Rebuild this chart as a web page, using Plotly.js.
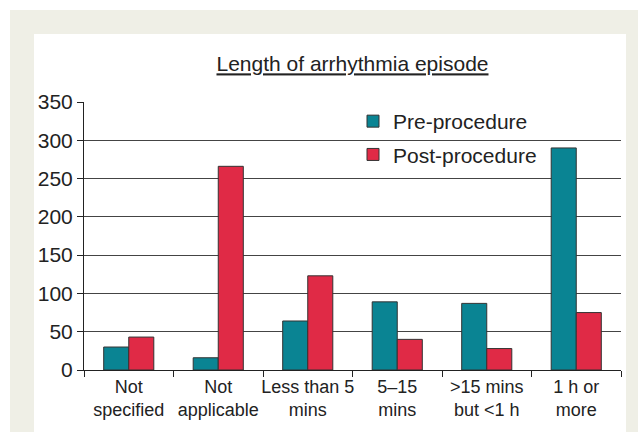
<!DOCTYPE html>
<html>
<head>
<meta charset="utf-8">
<script src="https://cdn.plot.ly/plotly-3.0.1.min.js"></script>
<style>html,body{margin:0;padding:0;background:#fff;}#chart{width:638px;height:432px;}</style>
</head>
<body>
<div id="chart"></div>
<script>
var categories = ["Not<br>specified", "Not<br>applicable", "Less than 5<br>mins", "5–15<br>mins", "&gt;15 mins<br>but &lt;1 h", "1 h or<br>more"];
var preProcedure = [30, 16, 64, 89, 87, 290];
var postProcedure = [43, 266, 123, 40, 28, 75];
var yTicks = [0, 50, 100, 150, 200, 250, 300, 350];

var FONT = '"Liberation Sans", Arial, Helvetica, sans-serif';

var traces = [
  {type: 'bar', name: 'Pre-procedure', x: categories, y: preProcedure,
   legendgroup: 'a',
   marker: {color: '#0a8493', line: {color: '#333333', width: 1}}},
  {type: 'bar', name: 'Post-procedure', x: categories, y: postProcedure,
   legendgroup: 'b',
   marker: {color: '#e02a46', line: {color: '#333333', width: 1}}}
];

var layout = {
  width: 638, height: 432,
  margin: {l: 84, r: 17, t: 102, b: 62},
  paper_bgcolor: '#ffffff',
  plot_bgcolor: 'rgba(0,0,0,0)',
  font: {family: FONT, color: '#222222'},
  barmode: 'group',
  bargap: 0.44,
  bargroupgap: 0,
  showlegend: true,
  title: {
    text: '<u>Length of arrhythmia episode</u>',
    font: {size: 21, family: FONT, color: '#222222'},
    x: 0.5, xref: 'paper', xanchor: 'center',
    y: 1 - 64 / 432, yref: 'container', yanchor: 'middle'
  },
  legend: {
    x: (353 - 84) / 537, xanchor: 'left',
    y: (370 - 101) / 268, yanchor: 'top',
    bgcolor: 'rgba(0,0,0,0)',
    font: {size: 21, family: FONT, color: '#222222'},
    traceorder: 'grouped',
    tracegroupgap: 3
  },
  xaxis: {
    type: 'category',
    showline: true, linecolor: '#222222', linewidth: 1,
    ticks: 'outside', ticklen: 6, tickcolor: '#222222', tickwidth: 1,
    tickson: 'boundaries',
    tickangle: 0,
    showgrid: false, zeroline: false,
    tickfont: {size: 18, family: FONT, color: '#222222'}
  },
  yaxis: {
    range: [0, 350],
    tickvals: yTicks,
    ticktext: yTicks.map(String),
    showline: true, linecolor: '#222222', linewidth: 1,
    ticks: 'outside', ticklen: 6, tickcolor: '#222222', tickwidth: 1,
    showgrid: true, gridcolor: '#444444', gridwidth: 1,
    zeroline: false,
    tickfont: {size: 21, family: FONT, color: '#222222'}
  },
  shapes: [
    {type: 'rect', xref: 'paper', yref: 'paper', layer: 'below',
     x0: (10 - 84) / 537, x1: (660 - 84) / 537, y0: (370 - 460) / 268, y1: (370 - 10) / 268,
     fillcolor: '#efefe6', line: {width: 0}},
    {type: 'rect', xref: 'paper', yref: 'paper', layer: 'below',
     x0: (34 - 84) / 537, x1: (626 - 84) / 537, y0: (370 - 460) / 268, y1: (370 - 34) / 268,
     fillcolor: '#ffffff', line: {width: 0}}
  ]
};

Plotly.newPlot('chart', traces, layout, {displayModeBar: false, staticPlot: true});
</script>
</body>
</html>
